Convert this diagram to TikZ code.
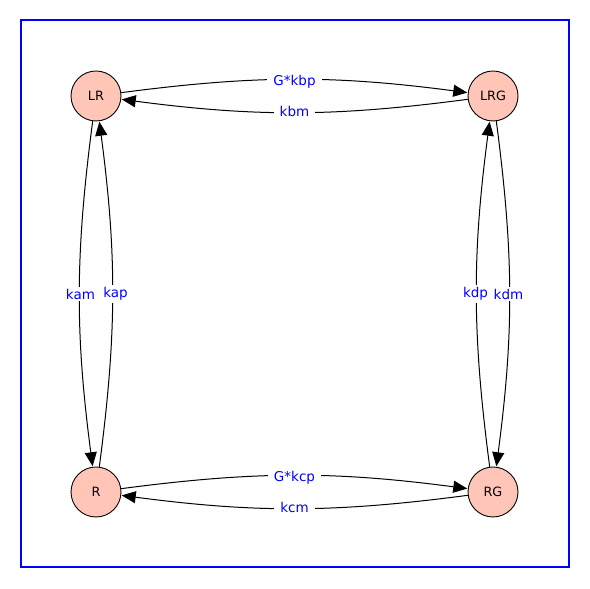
\documentclass[tikz,border=0pt]{standalone}
\usepackage{fontspec}
\setmainfont{DejaVu Sans}
\usetikzlibrary{arrows.meta}
\definecolor{nodefill}{RGB}{255,198,184}
\definecolor{lblue}{RGB}{0,0,255}
\tikzset{
  state/.style={circle, draw=black, line width=0.9pt, fill=nodefill, minimum size=50pt, inner sep=0pt, font=\fontsize{12.8}{14}\selectfont},
  trans/.style={draw=black, line width=1pt, -{Triangle[length=14pt,width=12pt]}, shorten >=0.5pt},
  lab/.style={fill=white, text=lblue, inner xsep=6pt, inner ysep=2pt, font=\fontsize{13.5}{16}\selectfont}
}
\begin{document}
\begin{tikzpicture}[x=1pt,y=1pt]
\useasboundingbox (0,0) rectangle (590,589);
\draw[lblue, line width=1.4pt] (21,22) rectangle (569,569);
\node[state] (LR)  at (96,493) {LR};
\node[state] (LRG) at (493,493) {LRG};
\node[state] (R)   at (96,97) {R};
\node[state] (RG)  at (493,97) {RG};
% top pair
\draw[trans] (LR) to[bend left=7.5] node[lab, midway, yshift=-2pt] {G*kbp} (LRG);
\draw[trans] (LRG) to[bend left=7.5] node[lab, midway, yshift=1pt] {kbm} (LR);
% bottom pair
\draw[trans] (R) to[bend left=7.5] node[lab, midway, yshift=-2pt] {G*kcp} (RG);
\draw[trans] (RG) to[bend left=7.5] node[lab, midway, yshift=1pt] {kcm} (R);
% left pair
\draw[trans] (R) to[bend right=7.5] node[lab, midway, xshift=3pt] {kap} (LR);
\draw[trans] (LR) to[bend right=7.5] node[lab, midway, xshift=1pt] {kam} (R);
% right pair
\draw[trans] (LRG) to[bend left=7.5] node[lab, midway, xshift=-1pt] {kdm} (RG);
\draw[trans] (RG) to[bend left=7.5] node[lab, midway, xshift=-1pt] {kdp} (LRG);
\end{tikzpicture}
\end{document}
